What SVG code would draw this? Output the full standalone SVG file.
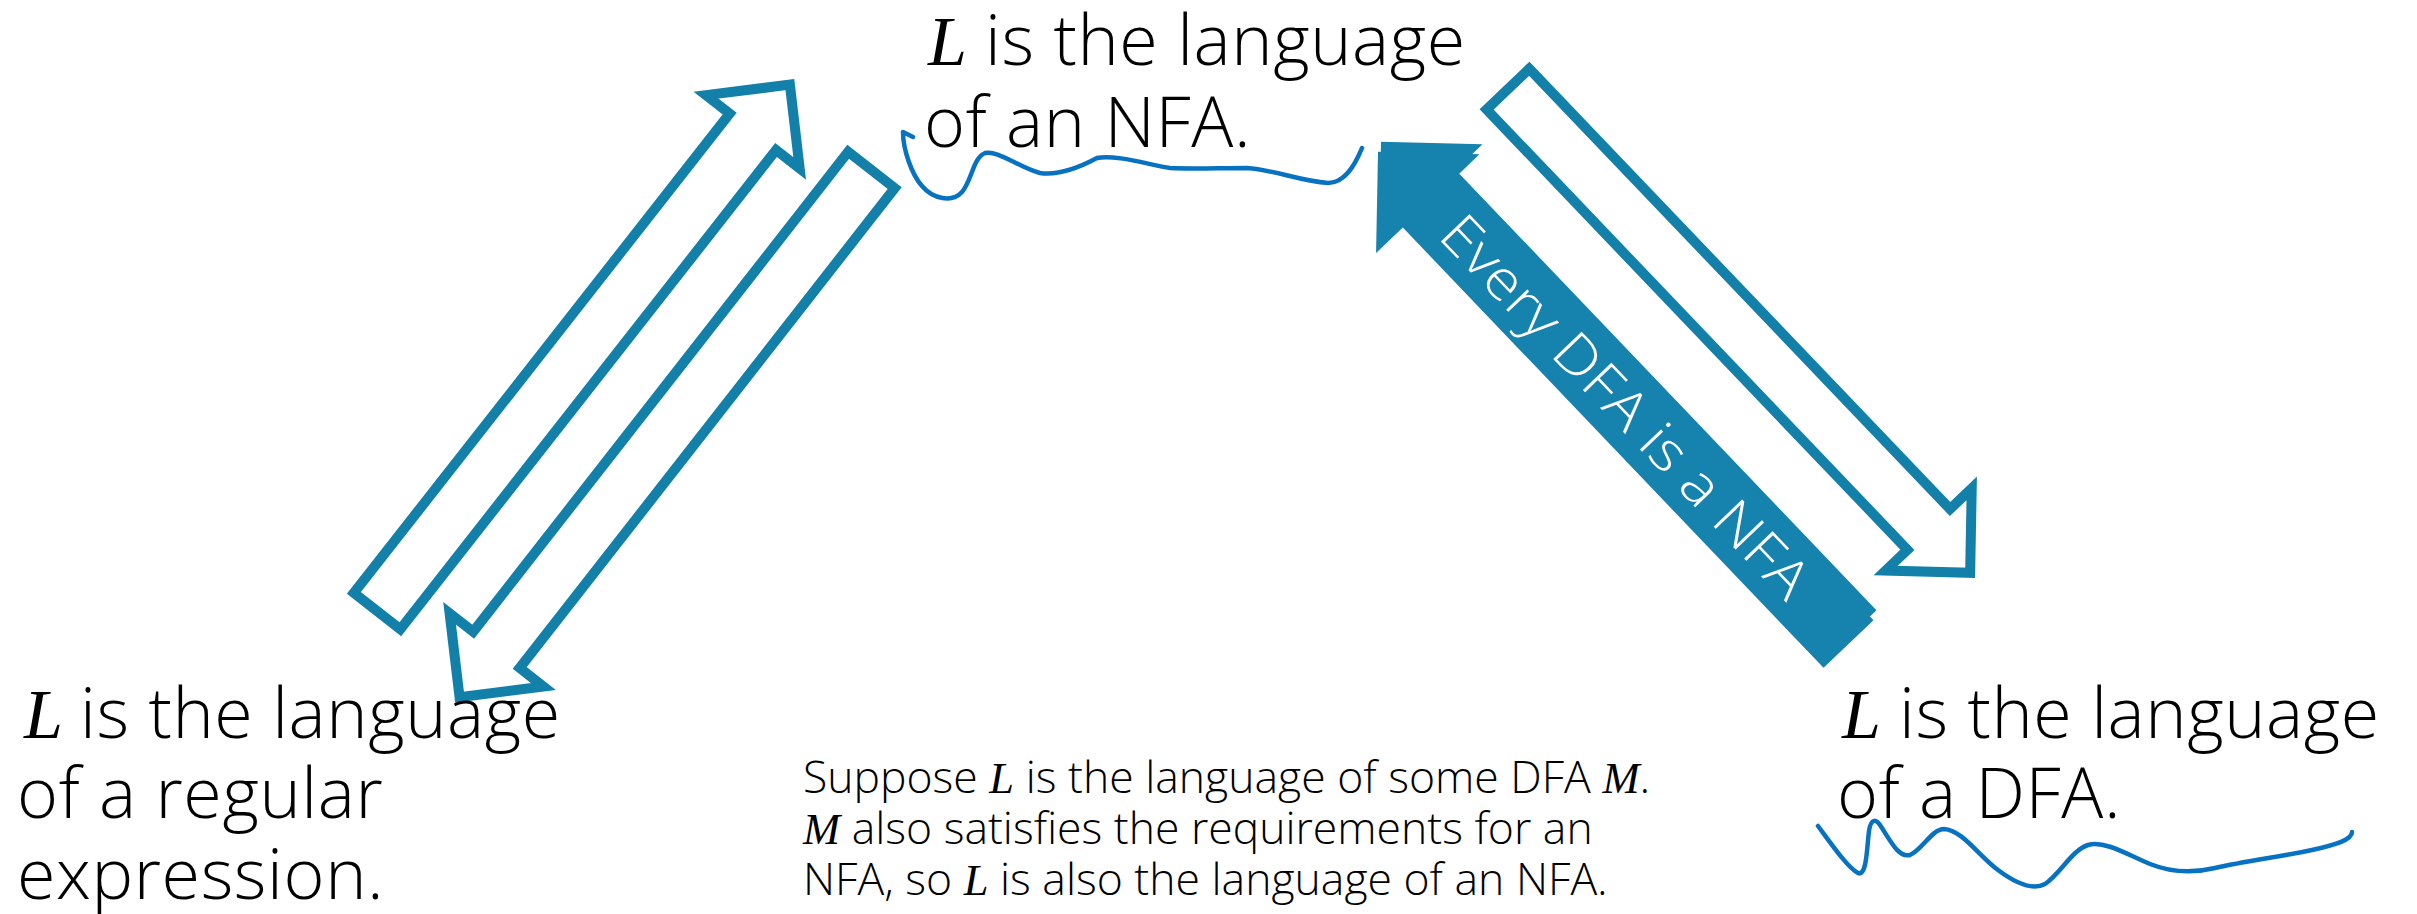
<svg xmlns="http://www.w3.org/2000/svg" width="2417" height="914" viewBox="0 0 2417 914">
<style>
.big{font-family:"Open Sans","Noto Sans",sans-serif;font-size:70px;font-weight:300;letter-spacing:0.6px;fill:#000}
.mid{font-family:"Open Sans","Noto Sans",sans-serif;font-size:44.5px;font-weight:300;fill:#000}
.m{font-family:"Liberation Serif","DejaVu Serif",serif;font-style:italic;font-weight:400;letter-spacing:0}
.ink{fill:none;stroke:#0872C2;stroke-width:4.5;stroke-linecap:round;stroke-linejoin:round}
.outl{fill:#fff;stroke:#1380A9;stroke-width:10;stroke-linejoin:miter}
.solid{fill:#1683AE}
.lbl{font-family:"Open Sans","Noto Sans",sans-serif;font-size:55px;font-weight:300;fill:#fff}
</style>
<defs>
<polygon id="outArrow" points="5,-29.5 614,-29.5 614,-59.5 674,0 614,59.5 614,29.5 5,29.5"/>
<polygon id="fillArrow" points="0,-34.5 609,-34.5 609,-71.5 681,0 609,71.5 609,34.5 0,34.5"/>
</defs>
<rect width="2417" height="914" fill="#fff"/>

<g id="connectors">
<use href="#outArrow" class="outl" transform="translate(374,615) rotate(-51.9)"/>
<use href="#outArrow" class="outl" transform="translate(874.5,166) rotate(128)"/>
<use href="#outArrow" class="outl" transform="translate(1504.5,85.5) rotate(46.3)"/>
<g id="dfa-to-nfa">
<use href="#fillArrow" class="solid" transform="translate(1848.5,644) rotate(-133.7)"/>
<use href="#fillArrow" class="solid" transform="translate(1851.5,634) rotate(-133.7)"/>
<text class="lbl" transform="translate(1626,406) rotate(46.3)" x="0" y="20" text-anchor="middle" textLength="506" lengthAdjust="spacingAndGlyphs">Every DFA is a NFA</text>
</g>
</g>

<g id="node-nfa">
<text class="big" x="928" y="65"><tspan class="m" font-size="70">L</tspan><tspan x="985">is the language</tspan></text>
<text class="big" x="924" y="147">of an NFA.</text>
<path class="ink" d="M913,137 L903,132 C903,150 912,175 922,186 C933,199 952,203 962,192 C972,180 973,158 985,153 C998,150 1020,168 1040,173 C1060,176 1082,166 1097,158 C1115,154 1150,165 1170,168 C1190,169 1220,168 1247,168 C1275,170 1300,181 1328,183 C1345,183 1355,165 1362,148"/>
</g>

<g id="node-regex">
<text class="big" x="24" y="738"><tspan class="m" font-size="70">L</tspan><tspan x="80">is the language</tspan></text>
<text class="big" x="17" y="818">of a regular</text>
<text class="big" x="17" y="899">expression.</text>
</g>

<g id="node-dfa">
<text class="big" x="1842" y="738"><tspan class="m" font-size="70">L</tspan><tspan x="1899">is the language</tspan></text>
<text class="big" x="1837" y="818">of a DFA.</text>
<path class="ink" d="M1818,826 C1832,845 1848,868 1858,873 C1867,877 1867,845 1869,831 C1871,818 1876,818 1882,828 C1891,842 1899,858 1910,855 C1922,850 1932,829 1944,829 C1962,830 1978,855 1998,870 C2014,882 2032,891 2045,884 C2060,874 2072,850 2088,845 C2105,840 2130,856 2150,864 C2170,872 2190,874 2215,868 C2245,861 2285,856 2312,850 C2335,845 2352,840 2352,832"/>
</g>

<g id="node-note">
<text class="mid" x="803" y="793">Suppose <tspan class="m">L</tspan> is the language of some DFA <tspan class="m">M</tspan>.</text>
<text class="mid" x="803" y="844"><tspan class="m">M</tspan> also satisfies the requirements for an</text>
<text class="mid" x="803" y="895">NFA, so <tspan class="m">L</tspan> is also the language of an NFA.</text>
</g>
</svg>
